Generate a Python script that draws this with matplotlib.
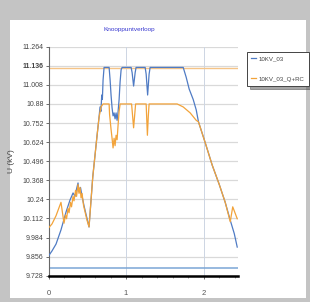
import numpy as np
import matplotlib.pyplot as plt
from matplotlib.patches import Rectangle

x_blue = [0, 0.045, 0.097, 0.161, 0.226, 0.278, 0.317, 0.342, 0.362, 0.381, 0.394, 0.413,
          0.433, 0.459, 0.484, 0.523, 0.549, 0.571, 0.601, 0.627, 0.652, 0.665, 0.676,
          0.687, 0.695, 0.704, 0.717, 0.782, 0.795, 0.807, 0.820, 0.833, 0.846, 0.859,
          0.872, 0.885, 0.898, 0.911, 0.924, 0.937, 0.950, 1.066, 1.079, 1.098, 1.118,
          1.130, 1.247, 1.260, 1.279, 1.298, 1.311, 1.738, 1.776, 1.815, 1.867, 1.906,
          1.935, 2.022, 2.112, 2.203, 2.280, 2.345, 2.397, 2.435]
u_blue = [9.86, 9.894, 9.94, 10.035, 10.155, 10.236, 10.283, 10.26, 10.31, 10.35, 10.29, 10.32,
          10.26, 10.195, 10.14, 10.055, 10.236, 10.39, 10.54, 10.67, 10.79, 10.86, 10.83,
          10.94, 10.91, 11.04, 11.125, 11.125, 11.04, 10.94, 10.855, 10.80, 10.82, 10.78,
          10.82, 10.77, 10.83, 10.91, 11.03, 11.11, 11.125, 11.125, 11.09, 11.00, 11.09,
          11.125, 11.125, 11.08, 10.94, 11.08, 11.125, 11.125, 11.06, 10.98, 10.91, 10.84,
          10.76, 10.62, 10.47, 10.34, 10.22, 10.10, 10.01, 9.92]

x_orange = [0, 0.045, 0.097, 0.161, 0.200, 0.220, 0.233, 0.252, 0.265, 0.284, 0.297, 0.317,
            0.329, 0.349, 0.362, 0.381, 0.394, 0.407, 0.420, 0.433, 0.452, 0.472, 0.497,
            0.523, 0.549, 0.571, 0.601, 0.627, 0.652, 0.678, 0.704, 0.782, 0.788, 0.807,
            0.820, 0.833, 0.846, 0.859, 0.872, 0.885, 0.898, 0.911, 0.924, 1.072, 1.085,
            1.098, 1.111, 1.124, 1.260, 1.266, 1.276, 1.288, 1.298, 1.660, 1.738, 1.828,
            1.906, 1.935, 2.022, 2.112, 2.203, 2.280, 2.345, 2.377, 2.435]
u_orange = [10.048, 10.075, 10.13, 10.22, 10.08, 10.135, 10.11, 10.18, 10.15, 10.22, 10.19, 10.26,
            10.23, 10.30, 10.26, 10.34, 10.28, 10.32, 10.25, 10.28, 10.20, 10.155, 10.10,
            10.055, 10.236, 10.39, 10.54, 10.67, 10.79, 10.86, 10.88, 10.88, 10.81, 10.71,
            10.65, 10.585, 10.65, 10.60, 10.67, 10.64, 10.74, 10.83, 10.88, 10.88, 10.80,
            10.72, 10.80, 10.88, 10.88, 10.80, 10.67, 10.80, 10.88, 10.88, 10.86, 10.82,
            10.77, 10.76, 10.62, 10.47, 10.34, 10.22, 10.09, 10.19, 10.11]

u_upper_limit = 11.118
u_lower_limit = 9.778

yticks = [9.728, 9.856, 9.984, 10.112, 10.24, 10.368, 10.496, 10.624, 10.752, 10.88,
          11.008, 11.136, 11.264]
ytick_labels = ['9.728', '9.856', '9.984', '10.112', '10.24', '10.368', '10.496', '10.624',
                '10.752', '10.88', '11.008', '11.136', '11.264']
xticks = [0, 1, 2]

plt.rcParams['font.family'] = ['Liberation Sans', 'DejaVu Sans']

fig = plt.figure(figsize=(3.10, 3.02), dpi=100, facecolor='#c4c4c4')
fig.patches.append(Rectangle((10/310, 4/302), 296/310, 278/302, transform=fig.transFigure,
                             facecolor='white', edgecolor='none', zorder=-10))

ax = fig.add_axes([48.5/310, 26.3/302, (238-48.5)/310, (275.7-46.7)/302])
ax.set_facecolor('white')

for yt in yticks:
    ax.axhline(yt, color='#d9d9d9', lw=0.9, zorder=1)
for xt in [1, 2]:
    ax.axvline(xt, color='#cdd5e3', lw=0.7, zorder=1)

ax.axhline(u_upper_limit, color='#f5c487', lw=1.0, zorder=2)
ax.axhline(u_lower_limit, color='#7aa6d6', lw=1.1, zorder=2)

ax.plot(x_blue, u_blue, color='#4f7bc4', lw=0.9, label='10KV_03', zorder=3)
ax.plot(x_orange, u_orange, color='#f2a33a', lw=0.9, label='10KV_03_Q+RC', zorder=4)

ax.set_xlim(0, 2.445)
ax.set_ylim(9.728, 11.264)
ax.set_yticks(yticks)
ax.set_yticklabels(ytick_labels)
ax.set_xticks(xticks)
ax.set_xticks(np.arange(0, 2.45, 0.2), minor=True)
ax.tick_params(axis='y', labelsize=5, colors='#555555', length=2, width=0.6, pad=1.5)
ax.tick_params(axis='x', labelsize=5.5, colors='#555555', length=2.5, width=0.6, pad=8)
ax.tick_params(axis='x', which='minor', length=1.5, width=0.5, color='#777777')
for lab in ax.get_yticklabels():
    lab.set_color('#444444')
    if lab.get_text() == '11.136':
        lab.set_fontweight('bold')

for side in ['top', 'right']:
    ax.spines[side].set_visible(False)
ax.spines['left'].set_color('#666666')
ax.spines['left'].set_linewidth(0.8)
ax.spines['bottom'].set_color('black')
ax.spines['bottom'].set_linewidth(1.8)

ax.set_ylabel('U (kV)', fontsize=6, color='#444444', labelpad=5)
fig.text(129/310, 1-30/302, 'Knooppuntverloop', fontsize=4.6, color='#3838d0',
         ha='center', va='center')

leg = ax.legend(loc='upper left', bbox_to_anchor=(247/310, 1-52/302), bbox_transform=fig.transFigure,
                fontsize=4.4, handlelength=0.7, handletextpad=0.5, borderpad=0.7, labelspacing=2.4,
                borderaxespad=0, frameon=True, fancybox=False, shadow=True)
leg.get_frame().set_edgecolor('#444444')
leg.get_frame().set_linewidth(0.7)
for t in leg.get_texts():
    t.set_color('#444444')

fig.savefig('out.png', dpi=100, facecolor=fig.get_facecolor())
